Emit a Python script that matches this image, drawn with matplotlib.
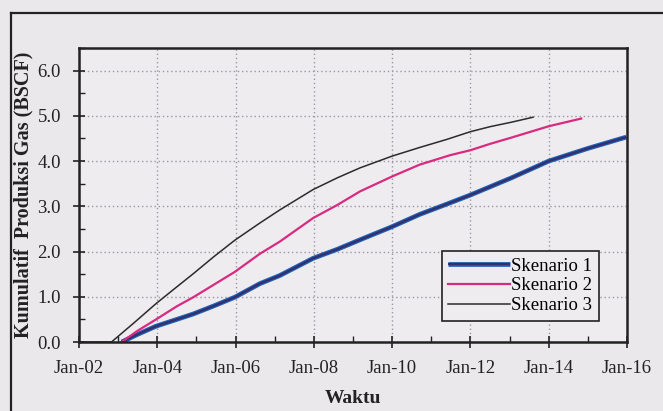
import matplotlib
matplotlib.use("Agg")
import matplotlib.pyplot as plt
from matplotlib.lines import Line2D

# cumulative gas production per scenario (BSCF), time in decimal years
s1_t = [2003.09, 2003.5, 2003.97, 2004.5, 2004.92, 2005.45, 2005.98, 2006.62, 2007.13,
        2007.98, 2008.6, 2009.18, 2010.0, 2010.7, 2011.4, 2012.0, 2013.05, 2014.0,
        2015.0, 2015.98]
s1_v = [0.0, 0.17, 0.35, 0.5, 0.62, 0.8, 0.99, 1.29, 1.47,
        1.85, 2.05, 2.26, 2.55, 2.82, 3.05, 3.25, 3.63, 4.0,
        4.28, 4.53]

s2_t = [2003.09, 2003.5, 2003.97, 2004.5, 2004.92, 2005.45, 2005.98, 2006.62, 2007.13,
        2007.98, 2008.6, 2009.18, 2010.0, 2010.7, 2011.48, 2012.0, 2012.5, 2013.05,
        2014.0, 2014.83]
s2_v = [0.0, 0.25, 0.5, 0.79, 0.99, 1.27, 1.55, 1.95, 2.22,
        2.74, 3.03, 3.33, 3.66, 3.92, 4.13, 4.24, 4.38, 4.52,
        4.77, 4.94]

s3_t = [2002.0, 2002.83, 2003.4, 2003.97, 2004.5, 2004.92, 2005.45, 2005.98, 2006.62,
        2007.13, 2007.98, 2008.6, 2009.18, 2010.0, 2010.7, 2011.4, 2012.0, 2012.5,
        2013.05, 2013.6]
s3_v = [0.0, 0.0, 0.42, 0.85, 1.22, 1.51, 1.89, 2.25, 2.63,
        2.92, 3.37, 3.63, 3.85, 4.11, 4.30, 4.48, 4.65, 4.76,
        4.86, 4.97]

x_ticks = [2002, 2004, 2006, 2008, 2010, 2012, 2014, 2016]
x_labels = ["Jan-02", "Jan-04", "Jan-06", "Jan-08", "Jan-10", "Jan-12", "Jan-14", "Jan-16"]
y_ticks = [0, 1, 2, 3, 4, 5, 6]

plt.rcParams["font.family"] = ["Liberation Serif", "DejaVu Serif"]

paper = "#ebe8ec"
fig = plt.figure(figsize=(6.63, 4.11), dpi=100, facecolor=paper)
ax = fig.add_axes([79 / 663, 1 - 342 / 411, 548 / 663, 294 / 411])
ax.set_facecolor("#efecf0")

# page frame around the figure
fig.add_artist(Line2D([11 / 663, 11 / 663], [0, 1 - 13 / 411], color="#222222", lw=1.6))
fig.add_artist(Line2D([11 / 663, 1], [1 - 13 / 411, 1 - 13 / 411], color="#222222", lw=1.6))

l1a, = ax.plot(s1_t, s1_v, color="#1f62b8", lw=3.4, solid_capstyle="butt")
l1b, = ax.plot(s1_t, s1_v, color="#33306e", lw=1.7, solid_capstyle="butt")
l2, = ax.plot(s2_t, s2_v, color="#d92a80", lw=1.6)
l3, = ax.plot(s3_t, s3_v, color="#2b2b2b", lw=1.1)

ax.set_xlim(2002, 2016)
ax.set_ylim(0, 6.5)
ax.set_xticks(x_ticks)
ax.set_xticklabels(x_labels)
ax.set_xticks(range(2002, 2017), minor=True)
ax.set_yticks(y_ticks)
ax.set_yticklabels(["%.1f" % v for v in y_ticks])
ax.set_yticks([i * 0.5 for i in range(14)], minor=True)

ax.tick_params(which="major", direction="inout", length=8, width=1.2, labelsize=13.5,
               colors="#222222")
ax.tick_params(axis="x", which="major", pad=9)
ax.tick_params(axis="y", which="major", pad=9)
ax.tick_params(which="minor", direction="in", length=4, width=1.0, colors="#222222")

ax.grid(True, which="major", color="#9a98a0", linestyle=(0, (1, 2)), lw=1.0)
for s in ax.spines.values():
    s.set_linewidth(1.8)
    s.set_color("#222222")

ax.set_xlabel("Waktu", fontsize=14, fontweight="bold", labelpad=9, color="#222222")
ax.set_ylabel("Kumulatif  Produksi Gas (BSCF)", fontsize=14.5, fontweight="bold",
              labelpad=3, color="#222222")

leg = ax.legend([(l1a, l1b), l2, l3], ["Skenario 1", "Skenario 2", "Skenario 3"],
                loc="upper left", bbox_to_anchor=(0.662, 0.31), borderaxespad=0,
                fontsize=13.5, handlelength=3.3, handletextpad=0.05, labelspacing=0.15,
                borderpad=0.35, fancybox=False, framealpha=1, facecolor="#efecf0",
                edgecolor="#222222")
leg.get_frame().set_linewidth(1.2)

fig.savefig("out.png", dpi=100, facecolor=paper)
